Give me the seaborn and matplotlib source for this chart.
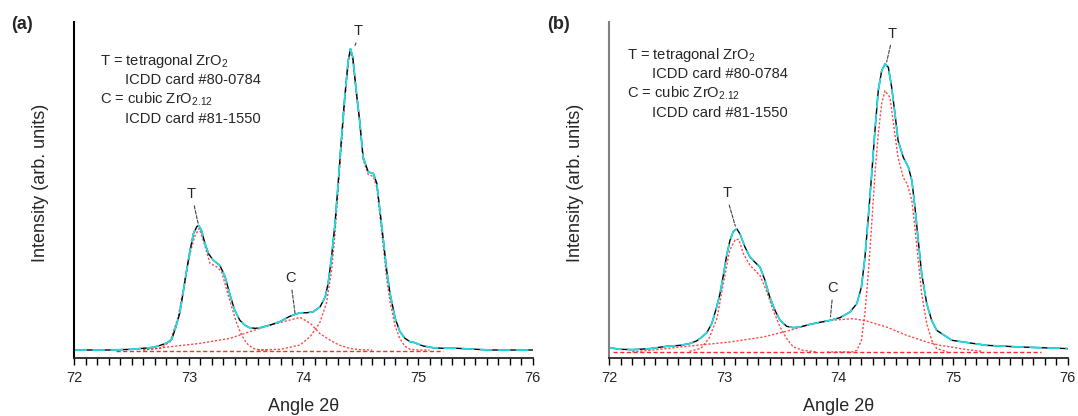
import matplotlib
matplotlib.use("Agg")
import matplotlib.pyplot as plt
from matplotlib.ticker import MultipleLocator
import seaborn as sns

sns.set_style("ticks")
plt.rcParams["font.family"] = ["Liberation Sans", "DejaVu Sans"]
plt.rcParams["mathtext.default"] = "regular"

# ---------------- panel (a) data ----------------
a_sum_x = [72.00, 72.30, 72.50, 72.60, 72.69, 72.75, 72.81, 72.85, 72.88, 72.92, 72.95, 72.98,
           73.01, 73.04, 73.07, 73.085, 73.11, 73.14, 73.17, 73.21, 73.27, 73.315, 73.36, 73.40,
           73.445, 73.49, 73.53, 73.58, 73.62, 73.71, 73.80, 73.88, 73.94, 73.97, 74.03, 74.085,
           74.145, 74.19, 74.215, 74.245, 74.275, 74.30, 74.33, 74.36, 74.39, 74.41, 74.43, 74.46,
           74.49, 74.52, 74.565, 74.61, 74.64, 74.667, 74.70, 74.726, 74.755, 74.80, 74.84, 74.885,
           74.93, 74.96, 75.045, 75.13, 75.22, 75.34, 75.51, 75.63, 76.00]
a_sum_y = [8.3, 8.3, 9.0, 10.0, 11.0, 13.0, 15.5, 19.0, 29.0, 45.0, 66.0, 88.0,
           108.0, 125.0, 132.0, 133.0, 128.0, 115.0, 105.0, 98.5, 93.0, 82.0, 63.0, 48.0,
           38.0, 33.0, 30.6, 30.0, 30.6, 33.3, 37.0, 42.0, 44.5, 45.6, 45.6, 46.6,
           51.6, 61.6, 75.0, 101.6, 135.0, 171.6, 218.0, 261.6, 298.0, 310.0, 301.6, 268.0,
           238.0, 201.6, 186.6, 185.0, 175.0, 148.0, 115.0, 88.0, 65.0, 40.0, 27.0, 20.0,
           16.6, 16.0, 12.3, 10.6, 10.0, 10.0, 9.0, 8.3, 8.3]

a_t1_x = [72.60, 72.75, 72.835, 72.907, 72.966, 73.01, 73.05, 73.09, 73.126, 73.184, 73.243,
          73.286, 73.33, 73.373, 73.417, 73.46, 73.504, 73.56, 73.62, 73.70]
a_t1_y = [8.3, 10.0, 16.6, 41.6, 78.3, 105.0, 122.0, 130.0, 118.0, 95.0, 91.6,
          86.6, 68.3, 51.6, 35.0, 23.3, 15.0, 10.0, 8.3, 8.3]

a_c_x = [72.60, 72.84, 73.10, 73.36, 73.53, 73.71, 73.88, 73.97, 74.06, 74.14, 74.23, 74.31,
         74.40, 74.50, 74.60]
a_c_y = [8.5, 11.6, 15.0, 20.0, 26.6, 33.3, 38.3, 41.0, 35.0, 25.0, 18.3, 13.3, 10.0, 8.5, 8.3]

a_t2_x = [73.60, 73.80, 73.97, 74.057, 74.14, 74.20, 74.246, 74.275, 74.30, 74.33, 74.36, 74.39,
          74.41, 74.43, 74.46, 74.49, 74.52, 74.565, 74.61, 74.64, 74.667, 74.70, 74.726, 74.755,
          74.80, 74.84, 74.885, 74.93, 75.00, 75.10]
a_t2_y = [8.3, 9.0, 13.3, 21.6, 35.0, 55.0, 88.3, 125.0, 165.0, 212.0, 257.0, 295.0,
          308.0, 299.0, 266.0, 236.0, 199.0, 184.0, 182.0, 171.0, 143.0, 108.0, 80.0, 57.0,
          32.0, 20.0, 12.0, 9.0, 8.3, 8.3]

a_base_x = [72.36, 75.22]
a_base_y = [7.6, 7.6]

# ---------------- panel (b) data ----------------
b_sum_x = [72.00, 72.09, 72.21, 72.355, 72.50, 72.62, 72.70, 72.76, 72.79, 72.85, 72.894, 72.937,
           72.966, 72.995, 73.024, 73.053, 73.082, 73.112, 73.14, 73.184, 73.228, 73.27, 73.315,
           73.359, 73.40, 73.446, 73.49, 73.548, 73.606, 73.664, 73.75, 73.838, 73.926, 74.013,
           74.10, 74.16, 74.20, 74.231, 74.26, 74.29, 74.318, 74.347, 74.377, 74.406, 74.435,
           74.464, 74.493, 74.52, 74.565, 74.61, 74.64, 74.667, 74.696, 74.726, 74.77, 74.813,
           74.857, 74.99, 75.29, 75.59, 76.00]
b_sum_y = [10.7, 9.0, 8.7, 9.7, 12.0, 13.0, 14.7, 17.3, 19.7, 25.5, 34.7, 51.3,
           64.7, 83.0, 103.0, 118.0, 127.0, 129.7, 124.7, 111.3, 101.3, 96.3, 91.3,
           78.0, 61.3, 48.0, 38.0, 32.0, 30.7, 31.3, 34.0, 36.0, 38.0, 40.7,
           46.3, 54.7, 71.3, 101.3, 141.3, 184.7, 228.0, 268.0, 288.0, 294.7, 291.3,
           271.3, 244.7, 218.0, 201.3, 191.3, 178.0, 151.3, 118.0, 84.7, 54.7, 38.0,
           28.0, 18.0, 13.0, 11.3, 9.7]

b_t1_x = [72.70, 72.80, 72.87, 72.94, 73.00, 73.05, 73.10, 73.13, 73.17, 73.228, 73.315, 73.37,
          73.43, 73.49, 73.548, 73.606, 73.69, 73.80]
b_t1_y = [7.0, 10.0, 20.0, 40.0, 78.0, 108.0, 119.0, 119.0, 104.7, 93.0, 83.0, 68.0,
          48.0, 31.3, 19.7, 11.3, 8.0, 6.5]

b_c_x = [72.20, 72.40, 72.617, 73.05, 73.344, 73.577, 73.78, 73.925, 74.013, 74.13, 74.246,
         74.42, 74.595, 74.77, 74.886, 75.00, 75.10, 75.25]
b_c_y = [6.5, 8.5, 11.3, 16.3, 21.3, 28.0, 34.7, 38.0, 38.7, 39.7, 37.3,
         31.3, 23.0, 16.3, 13.0, 11.0, 9.0, 7.0]

b_t2_x = [73.90, 74.13, 74.16, 74.20, 74.23, 74.26, 74.29, 74.318, 74.347, 74.377, 74.406, 74.45,
          74.48, 74.52, 74.565, 74.60, 74.64, 74.667, 74.696, 74.726, 74.77, 74.813, 74.857, 74.95]
b_t2_y = [6.3, 6.5, 8.0, 18.0, 44.7, 84.7, 134.7, 184.7, 224.7, 255.0, 268.0, 261.0,
          234.7, 201.0, 181.0, 174.7, 158.0, 131.0, 98.0, 64.7, 34.7, 18.0, 9.7, 6.5]

b_base_x = [72.03, 75.77]
b_base_y = [6.3, 6.3]

legend_lines = ["T = tetragonal ZrO$_{2}$", "ICDD card #80-0784",
                "C = cubic ZrO$_{2.12}$", "ICDD card #81-1550"]

RED = "#ff2a2a"
CYAN = "#22dde6"


def draw(ax, sx, sy, comps, base, spine_color, labels, text_x, text_ys):
    for cx, cy in comps:
        sns.lineplot(x=cx, y=cy, ax=ax, color=RED, lw=1.0, sort=False, estimator=None,
                     linestyle=(0, (1.6, 1.3)), alpha=0.85)
    sns.lineplot(x=base[0], y=base[1], ax=ax, color=RED, lw=1.0, sort=False, estimator=None,
                 linestyle=(0, (3, 1.8)))
    sns.lineplot(x=sx, y=sy, ax=ax, color="black", lw=1.0, sort=False, estimator=None)
    sns.lineplot(x=sx, y=sy, ax=ax, color=CYAN, lw=1.3, sort=False, estimator=None,
                 linestyle=(0, (7, 3)))
    ax.set_xlim(72, 76)
    ax.set_ylim(0, 337)
    ax.set_yticks([])
    ax.xaxis.set_major_locator(MultipleLocator(1))
    ax.xaxis.set_minor_locator(MultipleLocator(0.1))
    ax.tick_params(axis="x", which="both", direction="out", length=5, width=1,
                   color="black", labelsize=10.5, pad=4)
    for s in ["top", "right"]:
        ax.spines[s].set_visible(False)
    ax.spines["left"].set_color(spine_color)
    ax.spines["left"].set_linewidth(1.5)
    ax.spines["bottom"].set_linewidth(1.3)
    ax.set_xlabel("Angle 2θ", fontsize=13)
    ax.set_ylabel("Intensity (arb. units)", fontsize=13)
    ax.xaxis.set_label_coords(0.5, -0.117)
    ax.yaxis.set_label_coords(-0.055, 0.52)
    # annotation labels
    for txt, xy, xyt, rp in labels:
        ax.annotate(txt, xy=xy, xytext=xyt, textcoords="data", fontsize=10.5,
                    ha="center", va="center",
                    arrowprops=dict(arrowstyle="-", color="0.25", lw=0.8,
                                    linestyle=(0, (3, 1.5)), shrinkA=1, shrinkB=0,
                                    relpos=rp))
    # legend text block
    for i, (line, yv) in enumerate(zip(legend_lines, text_ys)):
        xv = text_x if i % 2 == 0 else text_x + 0.054
        ax.text(xv, yv, line, transform=ax.transAxes, fontsize=10.6, va="baseline", ha="left")


fig = plt.figure(figsize=(10.78, 4.16), dpi=100)
ax_a = fig.add_axes([0.06892, 0.1387, 0.42523, 0.80913])
ax_b = fig.add_axes([0.56521, 0.1387, 0.42523, 0.80913])

draw(ax_a, a_sum_x, a_sum_y, [(a_t1_x, a_t1_y), (a_c_x, a_c_y), (a_t2_x, a_t2_y)],
     (a_base_x, a_base_y), "black",
     [("T", (73.08, 135.3), (73.022, 164.3), (0.7, 0.0)),
      ("C", (73.926, 45.0), (73.885, 80.0), (0.6, 0.0)),
      ("T", (74.45, 313.3), (74.48, 327.3), (0.4, 0.0))], 0.056,
     [0.871, 0.815, 0.758, 0.700])
draw(ax_b, b_sum_x, b_sum_y, [(b_t1_x, b_t1_y), (b_c_x, b_c_y), (b_t2_x, b_t2_y)],
     (b_base_x, b_base_y), "#808080",
     [("T", (73.10, 132.3), (73.027, 165.0), (0.6, 0.0)),
      ("C", (73.93, 41.6), (73.948, 70.0), (0.5, 0.0)),
      ("T", (74.42, 296.6), (74.471, 325.0), (0.4, 0.0))], 0.0386,
     [0.889, 0.833, 0.776, 0.718])

fig.text(0.0208, 0.940, "(a)", fontsize=13, fontweight="bold", ha="center", va="center")
fig.text(0.5183, 0.942, "(b)", fontsize=13, fontweight="bold", ha="center", va="center")

fig.savefig("out.png", dpi=100)
